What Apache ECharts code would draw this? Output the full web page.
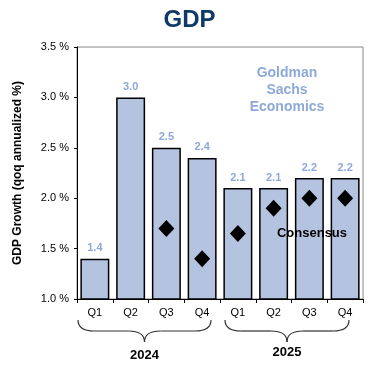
<!DOCTYPE html>
<html><head><meta charset="utf-8">
<script src="https://cdn.jsdelivr.net/npm/echarts@6/dist/echarts.min.js"></script>
<style>html,body{margin:0;padding:0;background:#fff}#c{width:379px;height:381px}</style>
</head><body><div id="c"></div>
<script>
var categories = ['Q1','Q2','Q3','Q4','Q1','Q2','Q3','Q4'];
var years = ['2024','2025'];
var gsValues = [1.4, 3.0, 2.5, 2.4, 2.1, 2.1, 2.2, 2.2];
var consensusValues = [null, null, 1.7, 1.4, 1.65, 1.9, 2.0, 2.0];
var yTicks = {min: 1.0, max: 3.5, interval: 0.5};

var chart = echarts.init(document.getElementById('c'), null, {renderer:'canvas'});
var font = 'Liberation Sans, Arial, sans-serif';
chart.setOption({
  animation: false,
  title: {text: 'GDP', left: 'center', top: 3,
    textStyle: {fontFamily: 'Liberation Sans Narrow, Liberation Sans, sans-serif', fontWeight: 'bold', fontSize: 24, color: '#0d3a66'}},
  grid: {left: 77, right: 16, top: 47, bottom: 82, show: true, borderColor: '#888', borderWidth: 1, containLabel: false},
  xAxis: {type: 'category', data: categories,
    axisLine: {lineStyle: {color: '#000', width: 1}},
    axisTick: {show: true, length: 4, lineStyle: {color: '#000'}},
    axisLabel: {color: '#000', fontFamily: font, fontSize: 11, margin: 8}},
  yAxis: {type: 'value', min: yTicks.min, max: yTicks.max, interval: yTicks.interval,
    name: 'GDP Growth (qoq annualized %)', nameLocation: 'middle', nameGap: 53, nameRotate: 90,
    nameTextStyle: {fontFamily: font, fontWeight: 'bold', fontSize: 12, color: '#000'},
    splitLine: {show: false},
    axisLine: {show: true, lineStyle: {color: '#000'}},
    axisTick: {show: true, length: 3, lineStyle: {color: '#000'}},
    axisLabel: {color: '#000', fontFamily: font, fontSize: 11, margin: 8,
      formatter: function(v){ return v.toFixed(1) + ' %'; }}},
  series: [
    {type: 'bar', data: gsValues, barCategoryGap: '19%',
     itemStyle: {color: '#b4c3e0', borderColor: '#000', borderWidth: 1.5},
     label: {show: true, position: 'top', distance: 5, color: '#8ea9d8', fontWeight: 'bold', fontFamily: font, fontSize: 11,
       formatter: function(p){ return p.value.toFixed(1); }}},
    {type: 'scatter', data: consensusValues, symbol: 'diamond', symbolSize: [16, 17],
     itemStyle: {color: '#000', opacity: 1}, z: 5}
  ]
});

function drawBraces(){
  var els = [];
  var half = (chart.convertToPixel({xAxisIndex:0}, 1) - chart.convertToPixel({xAxisIndex:0}, 0)) / 2;
  var groups = [[0,3],[4,7]];
  var st = {fill: null, stroke: '#333', lineWidth: 1.2};
  groups.forEach(function(g, i){
    var x0 = chart.convertToPixel({xAxisIndex:0}, g[0]) - half + 1 + (i ? 4 : 0);
    var x1 = chart.convertToPixel({xAxisIndex:0}, g[1]) + half - 1 - (i ? 13 : 8);
    var xc = (x0 + x1) / 2;
    var y0 = 320, y1 = 331, y2 = 342, r = 16;
    els.push({type: 'bezierCurve', shape: {x1: x0, y1: y0, cpx1: x0, cpy1: y1, x2: x0 + r, y2: y1}, style: st});
    els.push({type: 'line', shape: {x1: x0 + r, y1: y1, x2: xc - r, y2: y1}, style: st});
    els.push({type: 'bezierCurve', shape: {x1: xc - r, y1: y1, cpx1: xc, cpy1: y1, x2: xc, y2: y2}, style: st});
    els.push({type: 'bezierCurve', shape: {x1: xc, y1: y2, cpx1: xc, cpy1: y1, x2: xc + r, y2: y1}, style: st});
    els.push({type: 'line', shape: {x1: xc + r, y1: y1, x2: x1 - r, y2: y1}, style: st});
    els.push({type: 'bezierCurve', shape: {x1: x1 - r, y1: y1, cpx1: x1, cpy1: y1, x2: x1, y2: y0}, style: st});
    els.push({type: 'text', x: xc, y: 355 - (i ? 3 : 0), style: {text: years[i], fill: '#000', font: 'bold 13px ' + font, textAlign: 'center', textVerticalAlign: 'middle'}});
  });
  els.push({type: 'text', x: 287, y: 90, z: 100, style: {text: 'Goldman\nSachs\nEconomics', fill: '#8ea9d8', font: 'bold 14px ' + font, textAlign: 'center', textVerticalAlign: 'middle', lineHeight: 17}});
  els.push({type: 'text', x: 312, y: 233, z: 100, style: {text: 'Consensus', fill: '#000', font: 'bold 13px ' + font, textAlign: 'center', textVerticalAlign: 'middle'}});
  chart.setOption({graphic: els});
}
drawBraces();
</script></body></html>
